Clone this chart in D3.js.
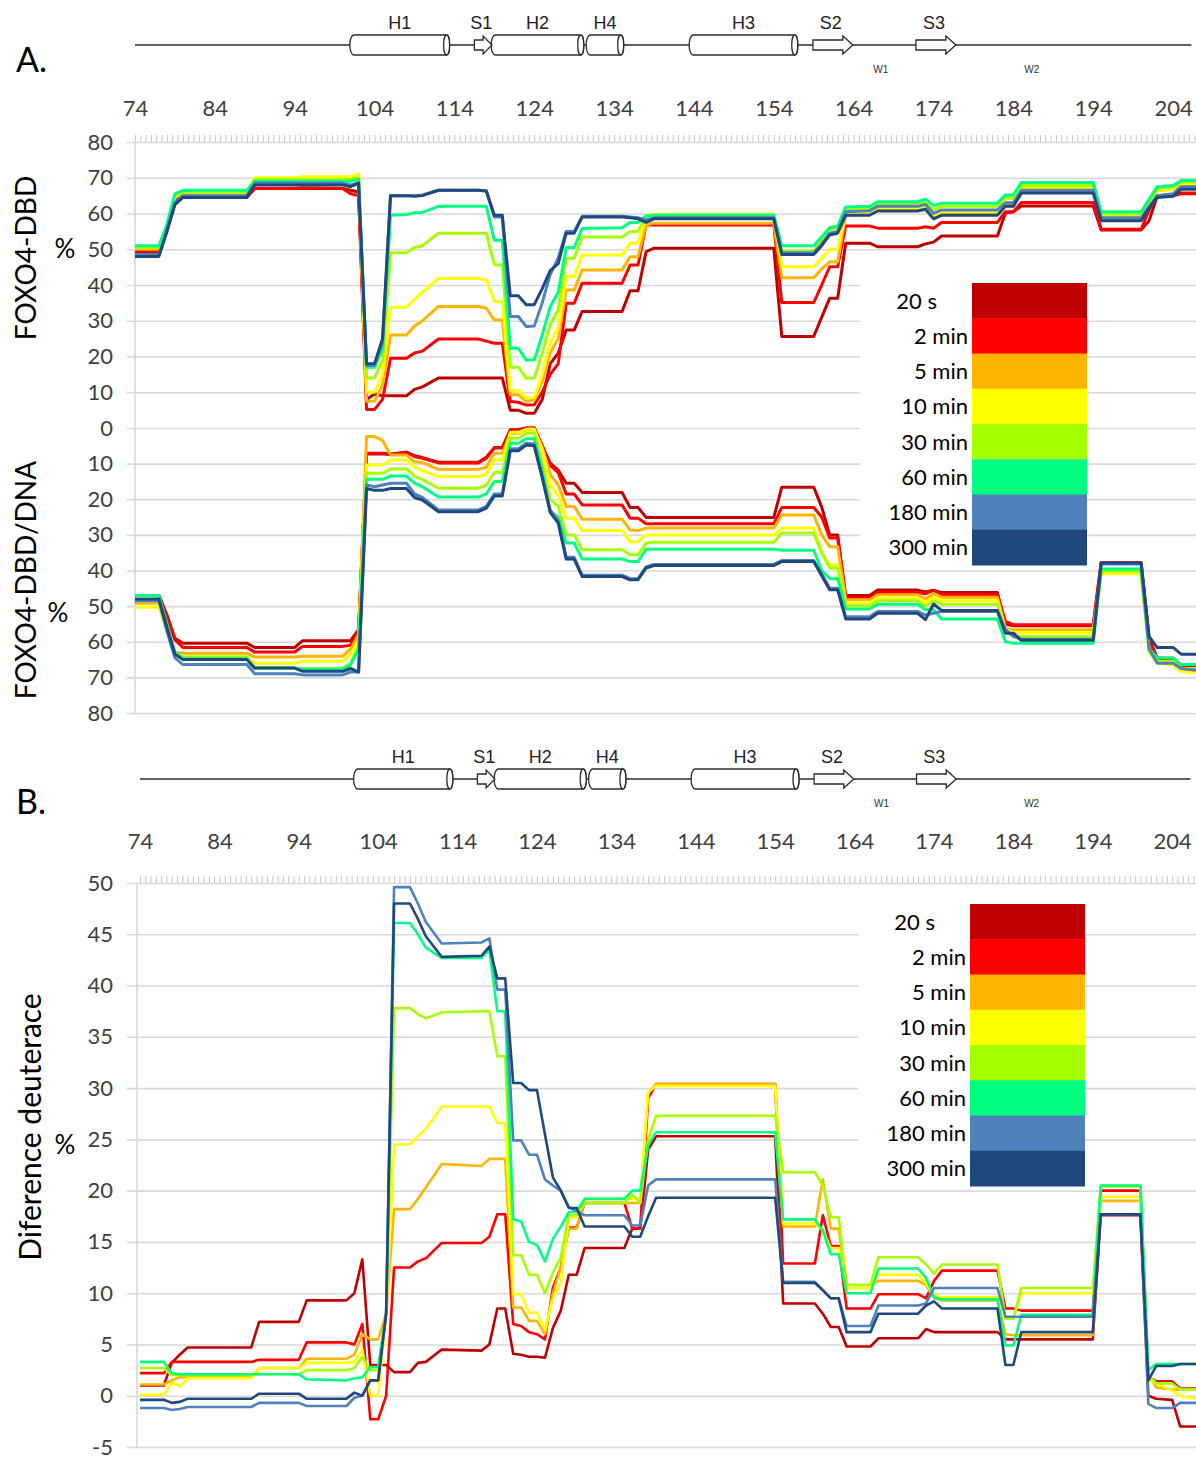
<!DOCTYPE html>
<html>
<head>
<meta charset="utf-8">
<script src="https://cdn.jsdelivr.net/npm/d3@7"></script>
<style>
  body { margin: 0; background: #fff; }
  svg { display: block; }
</style>
</head>
<body>
<script>
// Residue numbers at which the deuteration profiles are sampled
const residues = [74,77,78,79,80, 88,89,94,95, 100,101,102,103,104,105,106, 108,109,110,112,
  117,118,119,120,121,122,123,124,125,126,127,128,129,130, 135,136,137,138,139,
  154,155,159,160,161,162,163, 166,167,172,173,174,175, 182,183,184,185,
  194,195,200,201,202,204,205,207];

const timeLabels = ["20 s", "2 min", "5 min", "10 min", "30 min", "60 min", "180 min", "300 min"];
const timeColors = ["#C00000", "#FF0000", "#FFB400", "#FFFF00", "#A6FF00", "#00FF80", "#4F81BD", "#1F497D"];

// Deuteration (%) of free FOXO4-DBD, one row per exchange time
const dbdFree = [
  [49,49,55,63,64.5, 64.5,67,67,67, 67,66.5,66,8,9.5,9,9, 9,10.8,11.5,14,
   14,14,14,14,5,5,4.1,4.1,8,18,20.9,27.4,27.4,32.6, 32.6,38.4,38.4,49.3,50.3,
   50.3,25.6,25.6,31,36.3,36.3,51.7, 51.7,50.7,50.7,51.5,52,53.7, 53.7,60.1,60.5,62.1,
   62.1,55.4,55.4,58,64.7,65,65.5,65.5],
  [49.5,49.5,55.5,63.5,65, 65,67,67,67.2, 67,65.5,65,5.2,5.2,8,19.5, 19.5,21,21.5,24.9,
   24.9,24.3,23.7,23.7,7.4,7.2,6.4,6.5,10,15,18,34.9,34.9,40.5, 40.5,45.6,45.6,56.8,56.8,
   56.8,35.1,35.1,40,45.1,45.1,56.5, 56.5,55.9,55.9,56.3,55.9,57.5, 57.5,60.5,60.5,63.1,
   63.1,55.6,55.6,61,65,65.3,65.7,65.7],
  [50,50,56,64.5,65.5, 65.5,69.5,69.5,69.7, 69.7,69.7,70.5,7.5,7.5,12,26, 26,28.5,30,34,
   34,33.5,30.2,30.2,9.3,9.3,7.5,7.8,13,21,25,38.6,38.6,44.2, 44.2,47.9,47.9,56.8,57.3,
   57.3,42,42,44.5,46.5,46.5,59.5, 59.7,61,61,61.5,59,60, 60,62.5,62.5,66.5,
   66.5,58.5,58.5,62.5,66.5,66.8,68,68],
  [50.5,50.5,56.5,64.8,66, 66,70,70,70.3, 70.3,70.3,71,10,10,15,33.8, 33.8,36,38,41.8,
   41.8,41.5,35.4,35.4,10.5,10.5,8.3,8.5,15,24,28,42.4,42.4,48.4, 48.4,51.7,51.7,59.5,59.8,
   59.8,45.1,45.1,47.5,50,50,60.3, 60.5,61.5,61.5,62,59.5,60.5, 60.5,63,63,67,
   67,59,59,63,66.5,66.8,68.3,68.3],
  [50.5,50.5,56.5,65,66, 66,69.5,69.5,69.5, 69.5,69.5,70,14,14,19,49, 49,50.5,51,54.5,
   54.5,54.5,45.6,45.6,17,17,13.9,14,21,29,33,47.5,47.5,53.4, 53.4,55,55,59.2,59.6,
   59.6,49.5,49.5,52.5,55.5,56,61, 61.3,62.5,62.5,63,61,62, 62,64.3,64.3,67.8,
   67.8,59.8,59.8,63.5,67,67.3,68.8,68.8],
  [51,51,57,65.5,66.5, 66.5,69,69,69, 69,69,69.5,17,17,22,59.5, 59.7,60.2,60.3,62,
   62,62,52.5,52.5,22.3,22.3,19,19,26,34,38,50.5,50.5,55.8, 56,57.5,57.5,59.3,59.5,
   59.5,51,51,53.5,56,56.5,61.8, 62,63.3,63.3,64,62.2,62.9, 62.9,65.2,65.2,68.7,
   68.7,60.5,60.5,64,67.5,67.8,69.2,69.2],
  [48.5,48.5,55.5,63,65, 65,68.5,68.5,68.5, 68.5,68,68.5,17.5,17.5,24,65, 65,65,65.2,66.5,
   66.5,66.3,59,59,31.2,31.2,28.4,28.5,35,43,47.5,55,55,59.2, 59.2,59,58.8,58.2,58.8,
   58.8,49,49,51.5,54.5,55,60.5, 60.8,62,62,62.5,60,61, 61,63,63,66.5,
   66.5,58.8,58.8,62,65,65.5,67.5,67.5],
  [48,48,55,62.5,64.5, 64.5,68,68,68, 68,67.5,68.5,18,18,25,65, 65,64.8,65,66.5,
   66.5,66.3,59.5,59.5,37,37,34.5,34.5,39,44,46,54.5,54.5,59, 59,58.8,58.5,57.5,58.5,
   58.5,48.5,48.5,51,54,54.5,59.5, 59.5,60.7,60.7,61.2,58.5,59.5, 59.5,62,62,65.7,
   65.7,58,58,61.5,64.5,64.8,66.8,66.8]
];

// Deuteration (%) of FOXO4-DBD bound to DNA
const dbdDna = [
  [47,47,52.5,59,60.4, 60.4,61.6,61.6,59.7, 59.7,59.7,56.6,7.3,7.3,7.3,7.3, 6.8,7.8,8.3,9.6,
   9.6,8.2,5.5,5.5,0.5,0.5,0,0,5,9.9,11.8,15.5,15.5,18.1, 18.1,22.3,22.3,25.1,25.1,
   25.1,16.6,16.6,22.2,30,30,47, 47,45.5,45.5,46,45.5,46.2, 46.2,55,55.5,55.5,
   55.5,37.8,37.8,59,64.5,64.8,66.5,66.5],
  [47,47,53,59.5,61.6, 61.6,62.9,62.9,61.3, 61.3,61,57,7.1,7.1,7.1,7.5, 6.8,8,8.5,9.8,
   9.8,8.5,5.6,5.6,0.6,0.6,0,0,5,10.5,12.5,18.5,18.5,21.6, 21.6,25.3,25.3,26.9,26.9,
   26.9,22.3,22.3,25,30.9,30.9,47.8, 47.8,46.2,46.2,46.5,45.6,46.8, 46.8,54.3,55.2,55.2,
   55.2,37.8,37.8,59.5,64.9,65,66.9,66.9],
  [49.2,49.2,56.5,63,63.2, 63.2,64.3,64.3,64.1, 64.1,62,58,2.4,2.4,3.5,7.6, 7.6,9.5,9.7,11.6,
   11.6,11,7.1,7.1,1.5,1.5,0.5,0.5,5.5,13,16,22,22,25.6, 25.6,28.6,28.8,28.1,28.1,
   28.1,24.4,24.4,30,33.3,33.3,48.2, 48.2,46.8,46.8,48,46.5,47.5, 47.5,56.2,56.6,56.6,
   56.6,40.5,40.5,62.5,65.5,66,67.8,68.3],
  [50.3,50.3,57,63.5,64.3, 64.3,66,66,65.5, 65.5,63.5,60,10.4,10.4,10.4,9, 9,11,12,13.6,
   13.6,13,9,9,1.2,1.2,0.3,0.3,6,16,19,25.3,25.3,28.8, 28.8,31.9,31.9,30,30,
   30,28.1,28.1,35,38.4,38.4,49.2, 49.2,47.8,47.8,49,47.5,48.5, 48.5,56.5,57.5,57.5,
   57.5,40.9,40.9,63,66,66.5,68.3,68.8],
  [48.5,48.5,56,63.5,64.3, 64.3,67.4,67.4,67.5, 67.5,66,61,12.7,12.7,12.7,11.5, 11.5,13.5,14.5,16.9,
   16.9,16,12.5,12.5,2.9,2.9,1.5,1.5,10,20,22,30,30,34.2, 34.2,35.6,35.6,32.3,32.1,
   32.1,29.5,29.5,35,39.3,39.3,49.9, 49.9,48.5,48.5,50,48.5,49.5, 49.5,57,58.5,58.5,
   58.5,40.2,40.2,62.5,65.5,65.5,67.5,67.5],
  [47,47,55,63,64.8, 64.8,67.4,67.4,67.7, 67.7,66.5,62,14.4,14.4,14.4,13.5, 13.5,15.5,16.5,19.4,
   19.4,18.5,15,15,4.3,4.3,3,3,12,23.5,25,32.3,32.3,36.8, 36.8,37.5,37.5,34,34,
   34,34.3,34.3,40,42.3,42.3,50.8, 50.8,49.5,49.5,51,51,53.6, 53.6,60,60.4,60.4,
   60.4,39.6,39.6,62,64.5,64.5,66.4,66.4],
  [48.5,48.5,57,64.5,66.4, 66.4,69,69,69.3, 69.3,68.5,68.5,16,16.5,16,15.5, 15.5,18.5,19.5,23,
   23,22,18.5,18.5,5.8,5.8,4.3,4.5,13.5,23,26,36.3,36.3,41.3, 41.3,42.3,42.3,39,38.3,
   38.3,37.2,37.2,41,45,45,53, 53,51.5,51.5,52.5,52,51.5, 51.5,56.5,58.5,59.3,
   59.3,38.2,38.2,62,66,66,67.5,68],
  [48,48,56,63.5,65, 65,67.4,67.4,68.3, 68.3,67.5,68.5,17,17.5,17.5,17, 17,19.5,20.2,23.5,
   23.5,22.5,19.1,19.1,6.4,6.4,4.8,5,14,23.7,26.7,36.8,36.8,41.7, 41.7,42.6,42.6,39.3,38.6,
   38.6,37.5,37.5,41.5,45.4,45.4,53.6, 53.6,52,52,53.8,49.4,51.2, 51.2,57.6,57.6,59.6,
   59.6,37.9,37.9,58.5,61.6,61.6,63.5,63.5]
];

// Difference in deuteration (%) between the free and DNA-bound protein
const deutDiff = [
  [1,1,3.2,4,4.7, 4.7,7.2,7.2,9.3, 9.3,10,13.3,3,3,3,2.3, 2.3,3.2,3.3,4.5,
   4.4,5,8.5,8.5,4.1,4,3.8,3.8,3.7,6.6,8.3,11.8,11.8,14.4, 14.4,16.3,16.3,24,25.3,
   25.3,9,9,8,6.7,6.7,4.8, 4.8,5.6,5.6,6.5,6.2,6.2, 6.2,5.5,5.5,5.5,
   5.5,17.6,17.6,0,-0.3,-0.4,-3,-3],
  [2.2,2.2,3.3,3.3,3.3, 3.3,3.5,3.5,5.2, 5.2,5,7,-2.3,-2.3,0,12.5, 12.5,13.1,13.4,14.9,
   14.9,15.5,17.7,17.7,7,6.8,6.2,6,5.5,10.5,12.5,16.4,16.4,18.8, 18.8,16.3,16.3,29,30.4,
   30.4,12.9,12.9,17.6,14.6,14.6,8.5, 8.5,9.9,9.9,9.5,11.2,12.2, 12.2,8.5,8.5,8.3,
   8.3,20,20,1.8,1.4,1.4,0.7,0.7],
  [1.1,1.1,1.5,1.8,1.8, 1.8,2.7,2.7,3.6, 3.6,4,6,5.5,5.5,8,18.2, 18.2,19.2,20.3,22.6,
   22.4,23.1,23.1,23.1,8.6,8.6,7.3,7.3,6,10,12.5,16.3,16.3,18.8, 18.8,18.8,18.8,29.5,30.4,
   30.4,16.5,16.5,21.1,16.3,16.3,10.8, 10.8,11.2,11.2,10.8,9.5,9.3, 9.3,6,5.9,5.9,
   5.9,19,19,2,0.8,0.6,0.6,0.6],
  [0.1,0.1,1.3,0.9,1.7, 1.7,2.7,2.7,3.2, 3.2,3.3,4.5,0,0,8,24.5, 24.5,25.3,26,28.2,
   28.2,28.2,26.6,26.6,9.9,9.9,8.1,8.1,6.4,9.5,11,17.4,17.4,19.2, 19.2,19.2,19.2,29.6,30.2,
   30.2,16.8,16.8,16.1,14.4,14.4,10.5, 10.5,11.8,11.8,11,9.8,9.6, 9.6,7.6,7.6,10,
   10,19.4,19.4,1.5,1.2,0.5,0,-0.3],
  [2.7,2.7,2,2,2, 2,2.1,2.1,2.5, 2.5,2.7,3.8,2.5,2.5,8,37.8, 37.8,37.2,36.8,37.4,
   37.5,37.5,33.1,33.1,13.7,13.7,11.8,11.8,10,12,13.5,17.6,17.6,18.8, 18.8,19.6,18.8,25,27.3,
   27.3,21.8,21.8,20.5,17.4,17.4,10.8, 10.8,13.5,13.5,12.8,11.9,12.8, 12.8,7.5,7.5,10.5,
   10.5,20.4,20.4,2,1.2,1.2,0.6,0.6],
  [3.3,3.3,2.2,2.1,2.1, 2.1,2.1,2.1,1.6, 1.5,1.7,1.8,2.8,2.8,8,46.1, 46.1,45,43.7,42.7,
   42.7,43.5,37.5,37.5,17.2,17,15,14.7,13.1,15.3,16.5,17.9,18,19.2, 19.2,20,20,24.4,25.7,
   25.7,17.2,17.2,16.1,13.8,13.8,10, 10,12.4,12.4,11.5,9.6,9.4, 9.4,4.9,4.9,7.9,
   7.9,20.5,20.5,2.5,3.1,3.1,3.1,3.1],
  [-1.2,-1.2,-1.4,-1.3,-1.1, -1.1,-0.7,-0.7,-1, -1,-0.2,0,1.5,1.5,8,49.6, 49.6,48,46.2,44.1,
   44.2,44.6,39.6,39.6,24.9,24.9,23.5,23.5,21.1,20.5,20,18.4,18,17.6, 17.6,16.6,16.6,20.5,21.1,
   21.1,11.1,11.1,10.3,9.5,9.5,6.8, 6.8,8.8,8.8,9,10.5,10.5, 10.5,7.7,7.7,7.7,
   7.7,17.7,17.7,-0.8,-1.2,-1.2,-0.7,-0.7],
  [-0.4,-0.4,-0.7,-0.6,-0.3, -0.3,0.2,0.2,-0.3, -0.3,0.3,0,1.5,1.5,8,48, 48,46.5,44.8,42.8,
   42.9,43.8,40.7,40.7,30.5,30.5,29.8,29.8,25.5,21.3,20,18.3,18.3,16.5, 16.5,15.5,15.5,17.5,19.3,
   19.3,11,11,10.3,9.5,9.5,6.2, 6.2,8,8,8.8,9.2,8.5, 8.5,3,3,6.2,
   6.2,17.7,17.7,1.5,2.9,2.9,3.1,3.1]
];

// Axis tick values
const residueTicks = [74, 84, 94, 104, 114, 124, 134, 144, 154, 164, 174, 184, 194, 204];
const freeTicks = [0, 10, 20, 30, 40, 50, 60, 70, 80];
const dnaTicks = [10, 20, 30, 40, 50, 60, 70, 80];
const diffTicks = [-5, 0, 5, 10, 15, 20, 25, 30, 35, 40, 45, 50];

// Secondary structure of the forkhead domain (residue ranges)
const helices = [
  { name: "H1", start: 100.9, end: 113.4 },
  { name: "H2", start: 118.6, end: 130.2 },
  { name: "H4", start: 130.5, end: 135.2 },
  { name: "H3", start: 143.4, end: 157.0 }
];
const strands = [
  { name: "S1", start: 116.5, end: 118.7 },
  { name: "S2", start: 158.9, end: 163.9 },
  { name: "S3", start: 171.8, end: 176.8 }
];
const wings = [ { name: "W1", pos: 167.4 }, { name: "W2", pos: 186.3 } ];
const chainSpan = [74, 206.3];

// ---------------------------------------------------------------------------
const W = 1196, H = 1459;
const FONT = "Lato, 'Open Sans', sans-serif";
const GRID = "#d9d9d9";

const svg = d3.select("body").append("svg")
  .attr("width", W).attr("height", H)
  .style("font-family", FONT);

function drawStructure(x, yLine) {
  const g = svg.append("g").attr("stroke", "#2b2b2b").attr("stroke-width", 1.3);
  g.append("line")
    .attr("x1", x(chainSpan[0])).attr("x2", x(chainSpan[1]))
    .attr("y1", yLine).attr("y2", yLine);

  helices.forEach(h => {
    const x0 = x(h.start), x1 = x(h.end), r = 10;
    g.append("path")
      .attr("fill", "#fff")
      .attr("d", `M${x0 + 4},${yLine - r} L${x1 - 3},${yLine - r} A3,${r} 0 0 1 ${x1 - 3},${yLine + r}` +
                 ` L${x0 + 4},${yLine + r} A4,${r} 0 0 1 ${x0 + 4},${yLine - r} Z`);
    g.append("ellipse").attr("fill", "#fff")
      .attr("cx", x1 - 3).attr("cy", yLine).attr("rx", 3).attr("ry", r);
    svg.append("text").text(h.name)
      .attr("x", (x0 + x1) / 2).attr("y", yLine - 16)
      .attr("text-anchor", "middle").attr("font-size", 18)
      .attr("font-family", "'Liberation Sans', Arial, sans-serif").attr("fill", "#222");
  });

  strands.forEach(s => {
    const x0 = x(s.start), x1 = x(s.end);
    const head = Math.min(10, (x1 - x0) * 0.5);
    const bw = 5, hw = 9;
    g.append("path").attr("fill", "#fff")
      .attr("d", `M${x0},${yLine - bw} L${x1 - head},${yLine - bw} L${x1 - head},${yLine - hw}` +
                 ` L${x1},${yLine} L${x1 - head},${yLine + hw} L${x1 - head},${yLine + bw} L${x0},${yLine + bw} Z`);
    svg.append("text").text(s.name)
      .attr("x", (x0 + x1) / 2 - 2).attr("y", yLine - 16)
      .attr("text-anchor", "middle").attr("font-size", 18)
      .attr("font-family", "'Liberation Sans', Arial, sans-serif").attr("fill", "#222");
  });

  wings.forEach(w => {
    svg.append("text").text(w.name)
      .attr("x", x(w.pos)).attr("y", yLine + 28)
      .attr("text-anchor", "middle").attr("font-size", 10)
      .attr("font-family", "'Liberation Sans', Arial, sans-serif").attr("fill", "#333");
  });
}

function drawResidueAxis(x, yLabels, yTop) {
  // residue numbers
  svg.append("g").attr("transform", `translate(0,${yLabels})`)
    .call(d3.axisTop(x).tickValues(residueTicks).tickSize(0).tickPadding(0))
    .call(s => s.select(".domain").remove())
    .call(s => s.selectAll("text").attr("font-size", 22).attr("fill", "#404040").attr("font-family", FONT));
  // fine tick marks along the upper edge of the plot
  svg.append("g").attr("transform", `translate(0,${yTop})`)
    .call(d3.axisTop(x).tickValues(d3.range(74, 207.2, 2 / 3)).tickSize(7).tickFormat(""))
    .call(s => s.select(".domain").remove())
    .call(s => s.selectAll("line").attr("stroke", "#c8c8c8").attr("stroke-width", 1));
}

function drawValueAxis(y, ticks, labelX) {
  svg.append("g").attr("transform", `translate(${W},0)`)
    .call(d3.axisLeft(y).tickValues(ticks).tickSize(W - 127).tickFormat(""))
    .call(s => s.select(".domain").remove())
    .call(s => s.selectAll("line").attr("stroke", GRID).attr("stroke-width", 1.6));
  svg.append("g").attr("transform", `translate(${labelX},0)`)
    .call(d3.axisLeft(y).tickValues(ticks).tickSize(0).tickPadding(0).tickFormat(d => String(d)))
    .call(s => s.select(".domain").remove())
    .call(s => s.selectAll("text").attr("font-size", 22).attr("fill", "#404040").attr("font-family", FONT));
}

function drawSeries(rows, x, y, width) {
  const line = d3.line().x((d, i) => x(residues[i])).y(d => y(d));
  svg.append("g").selectAll("path").data(rows).join("path")
    .attr("d", line)
    .attr("fill", "none")
    .attr("stroke", (d, i) => timeColors[i])
    .attr("stroke-width", width)
    .attr("stroke-linejoin", "round");
}

function drawLegend(boxX, boxY, swatchX, textX) {
  const rowH = 35.25, sw = 115;
  svg.append("rect").attr("x", boxX).attr("y", boxY)
    .attr("width", swatchX + sw - boxX).attr("height", rowH * timeLabels.length)
    .attr("fill", "#fff");
  const g = svg.append("g");
  g.selectAll("rect").data(timeLabels).join("rect")
    .attr("x", swatchX).attr("y", (d, i) => boxY + i * rowH)
    .attr("width", sw).attr("height", rowH + 0.5)
    .attr("fill", (d, i) => timeColors[i]);
  g.selectAll("text").data(timeLabels).join("text")
    .text(d => d)
    .attr("x", textX).attr("dx", (d, i) => i === 0 ? -31 : 0)
    .attr("y", (d, i) => boxY + i * rowH + rowH / 2 + 8)
    .attr("text-anchor", "end").attr("font-size", 22).attr("fill", "#000");
}

function verticalTitle(text, cx, cy, size) {
  svg.append("text").text(text)
    .attr("transform", `translate(${cx},${cy}) rotate(-90)`)
    .attr("text-anchor", "middle").attr("font-size", size).attr("fill", "#000");
}

function plainText(text, x, y, size, anchor) {
  svg.append("text").text(text).attr("x", x).attr("y", y)
    .attr("text-anchor", anchor || "start").attr("font-size", size).attr("fill", "#000");
}

// ----------------------------- Panel A -------------------------------------
const xA = d3.scaleLinear().domain([74, 207]).range([135, 1197]);
const yFree = d3.scaleLinear().domain([0, 80]).range([428, 142]);
const yDna = d3.scaleLinear().domain([0, 80]).range([428, 713]);

drawStructure(xA, 45);
drawResidueAxis(xA, 116, 142);
drawValueAxis(yFree, freeTicks, 113);
drawValueAxis(yDna, dnaTicks, 113);
svg.append("line").attr("x1", xA(74)).attr("x2", xA(74))
  .attr("y1", yFree(80)).attr("y2", yDna(80)).attr("stroke", GRID).attr("stroke-width", 1.6);
drawLegend(860, 283, 972, 968);
drawSeries(dbdDna, xA, yDna, 3);
drawSeries(dbdFree, xA, yFree, 3);

plainText("A.", 16, 72, 34);
verticalTitle("FOXO4-DBD", 36, 258, 28);
plainText("%", 65, 258, 26, "middle");
verticalTitle("FOXO4-DBD/DNA", 36, 580, 28);
plainText("%", 58, 622, 26, "middle");

// ----------------------------- Panel B -------------------------------------
const xB = d3.scaleLinear().domain([74, 207]).range([140, 1196]);
const yDiff = d3.scaleLinear().domain([-5, 50]).range([1447, 883]);

drawStructure(xB, 779);
drawResidueAxis(xB, 849, 883);
drawValueAxis(yDiff, diffTicks, 113);
svg.append("line").attr("x1", xB(74) - 3).attr("x2", xB(74) - 3)
  .attr("y1", yDiff(50)).attr("y2", yDiff(-5)).attr("stroke", GRID).attr("stroke-width", 1.6);
drawLegend(858, 904, 970, 966);
drawSeries(deutDiff, xB, yDiff, 2.6);

plainText("B.", 16, 814, 34);
verticalTitle("Diference deuterace", 41, 1127, 30);
plainText("%", 65, 1154, 26, "middle");
</script>
</body>
</html>
